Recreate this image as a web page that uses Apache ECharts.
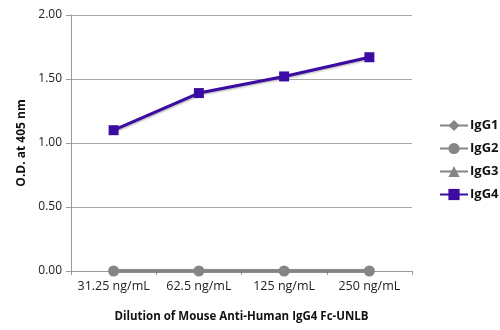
<!DOCTYPE html>
<html>
<head>
<meta charset="utf-8">
<script src="https://cdn.jsdelivr.net/npm/echarts@6/dist/echarts.min.js"></script>
<style>
  html, body { margin: 0; padding: 0; background: #fff; }
  #chart { width: 500px; height: 330px; }
</style>
</head>
<body>
<div id="chart"></div>
<script>
// Antibody dilutions (x axis) and optical density readings per isotype
const dilutions = ['31.25 ng/mL', '62.5 ng/mL', '125 ng/mL', '250 ng/mL'];
const igg1 = [0, 0, 0, 0];
const igg2 = [0, 0, 0, 0];
const igg3 = [0, 0, 0, 0];
const igg4 = [1.10, 1.39, 1.52, 1.67];

const grey = '#858585';
const purple = '#3b0ba3';
const fontFamily = '"Open Sans", "Noto Sans", sans-serif';

function lineSeries(name, data, color, symbol, size, z) {
  return {
    name: name,
    type: 'line',
    data: data,
    symbol: symbol,
    symbolSize: size,
    z: z,
    itemStyle: { color: color },
    lineStyle: {
      color: color,
      width: 3,
      shadowColor: 'rgba(0,0,0,0.3)',
      shadowBlur: 2,
      shadowOffsetX: 1,
      shadowOffsetY: 1
    },
    emphasis: { disabled: true },
    animation: false
  };
}

const chart = echarts.init(document.getElementById('chart'));
chart.setOption({
  backgroundColor: '#fff',
  textStyle: { fontFamily: fontFamily },
  grid: { left: 71, right: 88, top: 15, bottom: 59 },
  legend: {
    orient: 'vertical',
    left: 434,
    top: 114,
    itemWidth: 28,
    itemHeight: 14,
    itemGap: 10,
    textStyle: { fontFamily: fontFamily, fontSize: 13, fontWeight: 'bold', color: '#111', padding: [0, 0, 0, -3] },
    data: ['IgG1', 'IgG2', 'IgG3', 'IgG4']
  },
  xAxis: {
    type: 'category',
    data: dilutions,
    boundaryGap: true,
    name: 'Dilution of Mouse Anti-Human IgG4 Fc-UNLB',
    nameLocation: 'middle',
    nameGap: 40,
    nameTextStyle: { fontFamily: fontFamily, fontSize: 11.5, fontWeight: 'bold', color: '#111' },
    axisLine: { lineStyle: { color: '#999', width: 1 } },
    axisTick: { show: true, length: 4, lineStyle: { color: '#999' } },
    axisLabel: { fontFamily: fontFamily, fontSize: 12.5, color: '#222', margin: 9, interval: 0 }
  },
  yAxis: {
    type: 'value',
    min: 0,
    max: 2,
    interval: 0.5,
    name: 'O.D. at 405 nm',
    nameLocation: 'middle',
    nameGap: 43,
    nameRotate: 90,
    nameTextStyle: { fontFamily: fontFamily, fontSize: 12, fontWeight: 'bold', color: '#111' },
    axisLine: { show: true, lineStyle: { color: '#999', width: 1 } },
    axisTick: { show: true, length: 5, lineStyle: { color: '#999' } },
    axisLabel: {
      fontFamily: fontFamily, fontSize: 12, color: '#222', margin: 9,
      formatter: function (v) { return v.toFixed(2); }
    },
    splitLine: { lineStyle: { color: '#a8a8a8', width: 1 } }
  },
  series: [
    lineSeries('IgG1', igg1, grey, 'diamond', 8, 2),
    lineSeries('IgG2', igg2, grey, 'circle', 11, 4),
    lineSeries('IgG3', igg3, grey, 'triangle', 8, 3),
    lineSeries('IgG4', igg4, purple, 'rect', 10, 5)
  ]
});
</script>
</body>
</html>
